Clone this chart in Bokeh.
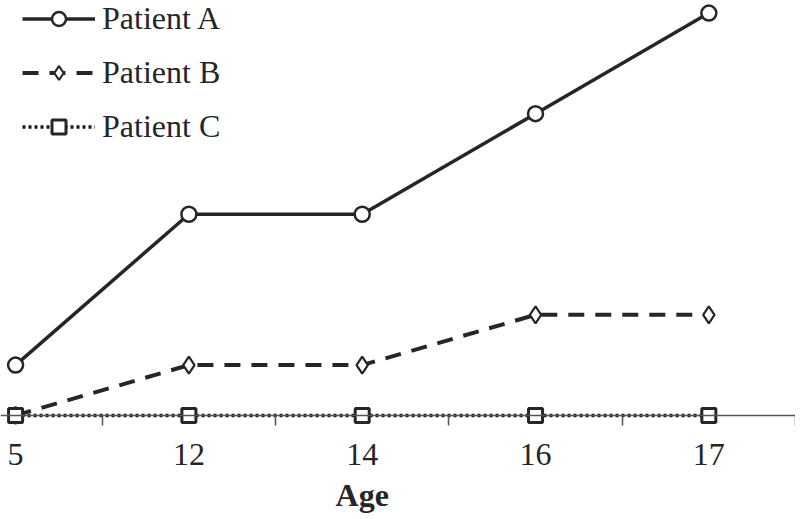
from bokeh.plotting import figure
from bokeh.models import Range1d, FixedTicker, Legend, LegendItem, Label
from bokeh.embed import file_html
from bokeh.resources import INLINE

ages = ["5", "12", "14", "16", "17"]
patient_a = [1, 4, 4, 6, 8]
patient_b = [0, 1, 1, 2, 2]
patient_c = [0, 0, 0, 0, 0]
series_names = ["Patient A", "Patient B", "Patient C"]
x_label = "Age"

INK = "#262626"
FONT = "Liberation Serif"

xs = list(range(len(ages)))

p = figure(width=795, height=519, output_backend="svg", toolbar_location=None,
           x_range=Range1d(-0.087, len(ages) - 0.5), y_range=Range1d(-2.07, 8.25),
           y_axis_location=None,
           min_border_left=0, min_border_right=0, min_border_top=0, min_border_bottom=0)
p.grid.visible = False
p.outline_line_color = None
p.background_fill_color = "white"

ax = p.xaxis[0]
ax.fixed_location = 0
ax.ticker = FixedTicker(ticks=xs, minor_ticks=[i + 0.5 for i in xs])
ax.major_label_overrides = {i: a for i, a in enumerate(ages)}
ax.major_tick_out = 0
ax.major_tick_in = 0
ax.minor_tick_out = 10
ax.minor_tick_in = 0
ax.axis_line_color = "#555555"
ax.axis_line_width = 1.5
ax.minor_tick_line_color = "#555555"
ax.minor_tick_line_width = 1.5
ax.major_label_text_font = FONT
ax.major_label_text_font_size = "32px"
ax.major_label_text_color = INK
ax.major_label_standoff = 19

# Patient B
lb = p.line(xs, patient_b, line_color=INK, line_width=4, line_dash="16 11")
sb = p.scatter(xs, patient_b, marker="diamond", size=17, fill_color="white",
               line_color=INK, line_width=2.2)
# Patient A
la = p.line(xs, patient_a, line_color=INK, line_width=3.5)
sa = p.scatter(xs, patient_a, marker="circle", size=15, fill_color="white",
               line_color=INK, line_width=2.5)
# Patient C
lc = p.line(xs, patient_c, line_color="#1a1a1a", line_width=3.5, line_dash="3 3")
sc = p.scatter(xs, patient_c, marker="square", size=14, fill_color="white",
               line_color=INK, line_width=3)

legend = Legend(items=[
    LegendItem(label=series_names[0], renderers=[la, sa]),
    LegendItem(label=series_names[1], renderers=[lb, sb]),
    LegendItem(label=series_names[2], renderers=[lc, sc]),
], location=(22, 374))
legend.glyph_width = 73
legend.glyph_height = 35
legend.label_height = 35
legend.spacing = 17
legend.padding = 0
legend.margin = 0
legend.label_standoff = 7
legend.label_text_font = FONT
legend.label_text_font_size = "32px"
legend.label_text_color = INK
legend.border_line_color = None
legend.background_fill_alpha = 0
p.add_layout(legend)

p.add_layout(Label(x=xs[len(xs) // 2], y=-1.59, text=x_label, text_font=FONT,
                   text_font_style="bold", text_font_size="32px", text_color=INK,
                   text_align="center", text_baseline="middle"))

open("out.html", "w").write(file_html(p, INLINE))
